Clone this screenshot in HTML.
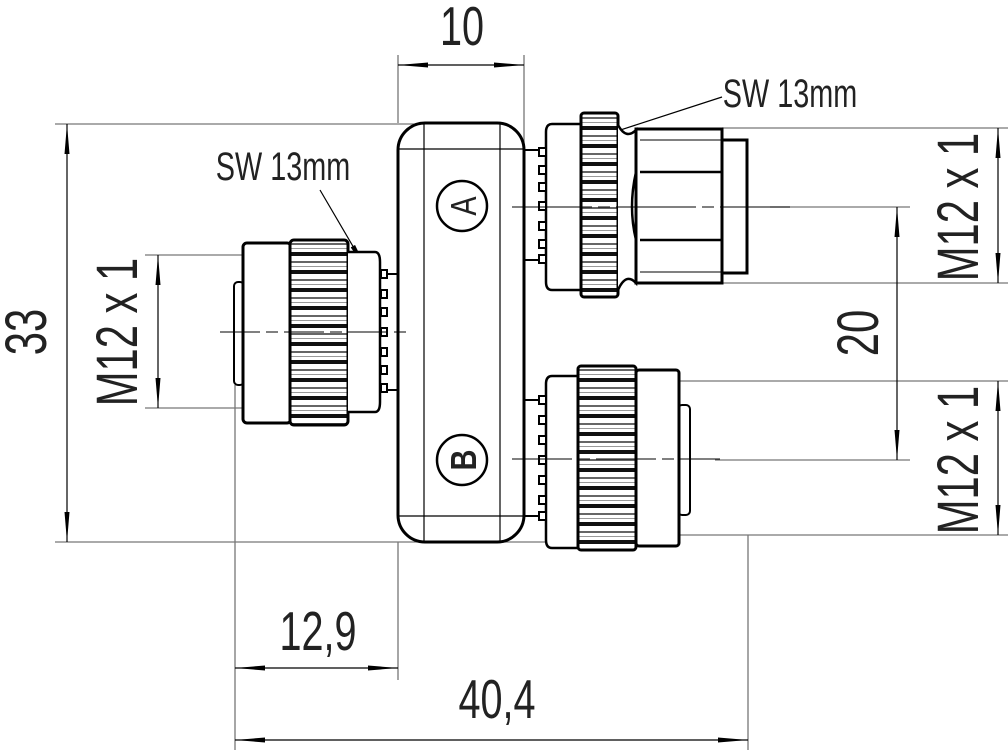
<!DOCTYPE html>
<html><head><meta charset="utf-8"><style>
html,body{margin:0;padding:0;background:#fff;}
svg{display:block;}
text{font-family:"Liberation Sans",sans-serif;fill:#222;}
</style></head><body>
<svg width="1008" height="750" viewBox="0 0 1008 750" xmlns="http://www.w3.org/2000/svg">
<defs>
<marker id="a" viewBox="0 0 30 8" refX="30" refY="4" markerWidth="30" markerHeight="8" markerUnits="userSpaceOnUse" orient="auto-start-reverse"><path d="M0,1.5 L30,4 L0,6.5 Z" fill="#000"/></marker>
<pattern id="kn" width="10" height="18" patternUnits="userSpaceOnUse"><rect width="10" height="18" fill="#fff"/><rect y="0" width="10" height="4" fill="#111"/><rect y="9" width="10" height="2" fill="#666"/><rect y="14" width="10" height="1" fill="#999"/></pattern>
</defs>
<g stroke="#777" stroke-width="1.3" fill="none">
<line x1="398" y1="55" x2="398" y2="123"/><line x1="524" y1="55" x2="524" y2="150"/>
<line x1="55" y1="124" x2="420" y2="124"/><line x1="55" y1="542" x2="545" y2="542"/>
<line x1="145" y1="255" x2="245" y2="255"/><line x1="145" y1="408" x2="245" y2="408"/>
<line x1="722" y1="128" x2="1008" y2="128"/><line x1="722" y1="283" x2="1008" y2="283"/>
<line x1="770" y1="207" x2="910" y2="207"/><line x1="715" y1="460" x2="910" y2="460"/>
<line x1="678" y1="381" x2="1008" y2="381"/><line x1="678" y1="535" x2="1008" y2="535"/>
<line x1="235" y1="385" x2="235" y2="750"/><line x1="398" y1="542" x2="398" y2="680"/>
<line x1="748" y1="535" x2="748" y2="750"/>
</g>
<g stroke="#000" stroke-width="1.2">
<line x1="398" y1="65" x2="524" y2="65" marker-start="url(#a)" marker-end="url(#a)"/>
<line x1="67" y1="124" x2="67" y2="542" marker-start="url(#a)" marker-end="url(#a)"/>
<line x1="158" y1="255" x2="158" y2="408" marker-start="url(#a)" marker-end="url(#a)"/>
<line x1="998" y1="128" x2="998" y2="283" marker-start="url(#a)" marker-end="url(#a)"/>
<line x1="897" y1="207" x2="897" y2="460" marker-start="url(#a)" marker-end="url(#a)"/>
<line x1="998" y1="381" x2="998" y2="535" marker-start="url(#a)" marker-end="url(#a)"/>
<line x1="235" y1="668" x2="398" y2="668" marker-start="url(#a)" marker-end="url(#a)"/>
<line x1="235" y1="740" x2="748" y2="740" marker-start="url(#a)" marker-end="url(#a)"/>
<line x1="722" y1="97" x2="565" y2="148" marker-end="url(#a)"/>
<line x1="320" y1="190" x2="368" y2="272" marker-end="url(#a)"/>
</g>
<g stroke="#000" fill="none">
<rect x="398" y="123" width="126" height="419" rx="27" stroke-width="3"/>
<g stroke-width="1.2"><line x1="424" y1="124" x2="424" y2="541"/><line x1="500" y1="124" x2="500" y2="541"/>
<line x1="399" y1="149" x2="523" y2="149"/><line x1="399" y1="516" x2="523" y2="516"/></g>
<circle cx="462" cy="206" r="25" stroke-width="2.5" fill="#fff"/>
<circle cx="462" cy="460" r="25" stroke-width="2.5" fill="#fff"/>
</g>
<text transform="translate(476,206) rotate(-90) scale(0.8,1)" text-anchor="middle" font-size="36">A</text>
<text transform="translate(476,460) rotate(-90) scale(0.8,1)" text-anchor="middle" font-size="36" font-weight="bold">B</text>
<g stroke="#000" fill="#fff">
<rect x="234" y="282" width="10" height="103" rx="4" stroke-width="2"/>
<rect x="243" y="243" width="48" height="180" rx="4" stroke-width="3"/>
<rect x="290" y="240" width="58" height="185" rx="4" stroke-width="3" fill="url(#kn)"/>
<path d="M348,252 L375,252 Q380,252 380,262 L380,402 Q380,412 375,412 L348,412" stroke-width="2.5"/>
<g stroke-width="2" fill="#fff"><rect x="381" y="270" width="6" height="8"/><rect x="381" y="290" width="6" height="8"/><rect x="381" y="308" width="6" height="8"/><rect x="381" y="328" width="6" height="8"/><rect x="381" y="348" width="6" height="8"/><rect x="381" y="366" width="6" height="8"/><rect x="381" y="384" width="6" height="8"/></g>
<line x1="387" y1="274" x2="398" y2="274" stroke-width="2"/><line x1="387" y1="390" x2="398" y2="390" stroke-width="2"/>
</g>
<line x1="220" y1="332" x2="410" y2="332" stroke="#000" stroke-width="1" stroke-dasharray="40,6,12,6"/>
<g stroke="#000" fill="#fff">
<path d="M580,124 L552,124 Q546,124 546,132 L546,282 Q546,290 552,290 L580,290" stroke-width="2.5"/>
<rect x="581" y="113" width="37" height="184" rx="3" stroke-width="3" fill="url(#kn)"/>
<path d="M618,125 Q626,140 636,130 L636,283 Q626,272 618,290" stroke-width="2.5"/>
<rect x="636" y="129" width="86" height="154" stroke-width="3"/>
<path d="M636,172 Q628,207 636,240 M722,172 Q730,207 722,240" stroke-width="2.5" fill="none"/>
<line x1="640" y1="172" x2="722" y2="172" stroke-width="2.5"/><line x1="640" y1="240" x2="722" y2="240" stroke-width="2.5"/>
<line x1="640" y1="140" x2="722" y2="140" stroke-width="1"/><line x1="640" y1="272" x2="722" y2="272" stroke-width="1"/>
<rect x="722" y="140" width="25" height="133" stroke-width="3"/>
<g stroke-width="2"><rect x="539" y="148" width="7" height="8"/><rect x="539" y="166" width="7" height="8"/><rect x="539" y="183" width="7" height="8"/><rect x="539" y="202" width="7" height="8"/><rect x="539" y="222" width="7" height="8"/><rect x="539" y="240" width="7" height="8"/><rect x="539" y="255" width="7" height="8"/></g>
<line x1="524" y1="150" x2="539" y2="150" stroke-width="2"/><line x1="524" y1="260" x2="539" y2="260" stroke-width="2"/>
</g>
<line x1="512" y1="207" x2="790" y2="207" stroke="#000" stroke-width="1" stroke-dasharray="80,6,12,6"/>
<g stroke="#000" fill="#fff">
<rect x="678" y="405" width="12" height="110" rx="4" stroke-width="2"/>
<path d="M578,376 L552,376 Q546,376 546,384 L546,540 Q546,548 552,548 L578,548" stroke-width="2.5"/>
<rect x="578" y="366" width="58" height="184" rx="3" stroke-width="3" fill="url(#kn)"/>
<rect x="636" y="370" width="43" height="176" rx="3" stroke-width="3"/>
<g stroke-width="2"><rect x="539" y="396" width="7" height="8"/><rect x="539" y="416" width="7" height="8"/><rect x="539" y="436" width="7" height="8"/><rect x="539" y="456" width="7" height="8"/><rect x="539" y="476" width="7" height="8"/><rect x="539" y="496" width="7" height="8"/><rect x="539" y="512" width="7" height="8"/></g>
<line x1="524" y1="400" x2="539" y2="400" stroke-width="2"/><line x1="524" y1="516" x2="539" y2="516" stroke-width="2"/>
</g>
<line x1="512" y1="459" x2="720" y2="459" stroke="#000" stroke-width="1" stroke-dasharray="60,6,12,6"/>
<text transform="translate(462,45) scale(0.72,1)" text-anchor="middle" font-size="55">10</text>
<text transform="translate(790,107) scale(0.72,1)" text-anchor="middle" font-size="40">SW 13mm</text>
<text transform="translate(283,180) scale(0.72,1)" text-anchor="middle" font-size="40">SW 13mm</text>
<text transform="translate(46,332) rotate(-90) scale(0.72,1)" text-anchor="middle" font-size="58">33</text>
<text transform="translate(137,332) rotate(-90) scale(0.72,1)" text-anchor="middle" font-size="58">M12 x 1</text>
<text transform="translate(978,207) rotate(-90) scale(0.72,1)" text-anchor="middle" font-size="58">M12 x 1</text>
<text transform="translate(878,333) rotate(-90) scale(0.72,1)" text-anchor="middle" font-size="58">20</text>
<text transform="translate(978,460) rotate(-90) scale(0.72,1)" text-anchor="middle" font-size="58">M12 x 1</text>
<text transform="translate(318,650) scale(0.72,1)" text-anchor="middle" font-size="55">12,9</text>
<text transform="translate(497,718) scale(0.72,1)" text-anchor="middle" font-size="55">40,4</text>
</svg>
</body></html>
